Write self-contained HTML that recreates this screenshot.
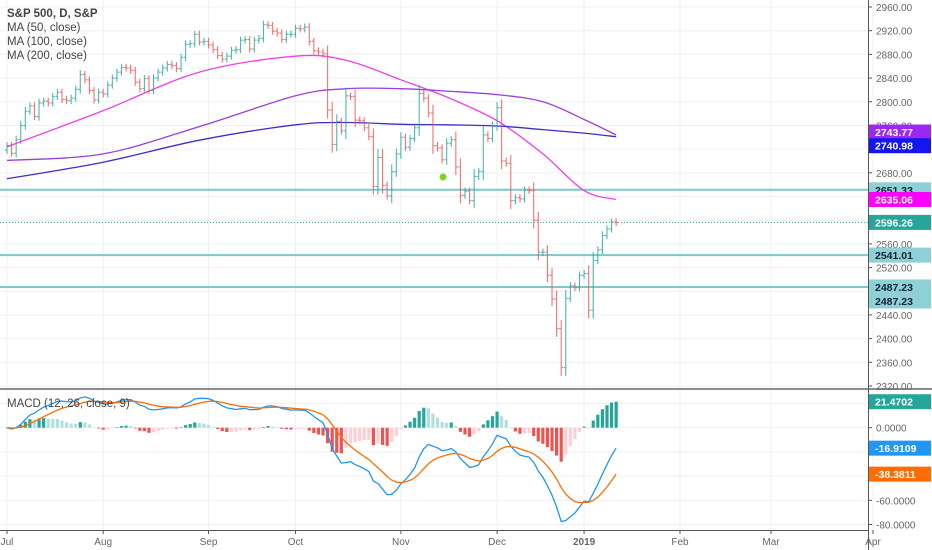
<!DOCTYPE html>
<html><head><meta charset="utf-8">
<style>
html,body{margin:0;padding:0;background:#fff;}
svg{display:block;font-family:"Liberation Sans",sans-serif;}
</style></head>
<body>
<svg id="chart" width="932" height="550" viewBox="0 0 932 550" xmlns="http://www.w3.org/2000/svg">
  <g id="grid"></g>
  <g id="hlines"></g>
  <g id="mas"></g>
  <g id="bars"></g>
  <g id="macd"></g>
  <g id="axes"></g>
  <g font-size="11.5" fill="#444">
    <text x="7" y="17" font-weight="bold">S&amp;P 500, D, S&amp;P</text>
    <text x="7" y="31">MA (50, close)</text>
    <text x="7" y="45">MA (100, close)</text>
    <text x="7" y="59">MA (200, close)</text>
    <text x="7" y="407">MACD (12, 26, close, 9)</text>
  </g>
</svg>
<script>
// ---- data ----
const closes = [2726,2713,2736,2760,2784,2793,2775,2798,2801,2798,2809,2816,2804,2802,2806,2821,2846,2837,2819,2803,2816,
2813,2828,2840,2850,2858,2857,2853,2833,2822,2839,2819,2840,2850,2857,2863,2861,2856,2875,2897,2898,2914,2901,2902,
2896,2888,2878,2872,2877,2887,2888,2904,2905,2889,2904,2907,2930,2929,2919,2916,2905,2914,2914,
2924,2923,2926,2902,2886,2884,2881,2786,2728,2767,2751,2810,2809,2769,2768,2756,2741,2657,2706,2659,2641,2682,2712,
2740,2723,2738,2756,2814,2806,2781,2726,2722,2702,2730,2736,2690,2642,2649,2633,2674,2682,2744,2738,2760,
2790,2700,2696,2633,2638,2636,2651,2650,2600,2546,2546,2507,2467,2417,2351,2468,2489,2486,2507,
2510,2448,2532,2550,2574,2585,2597,2596];
const monthLabels = ["Jul","Aug","Sep","Oct","Nov","Dec","2019"];
const monthStartIdx = [0,21,44,63,86,107,126];
const futureLabels = ["Feb","Mar","Apr"];
const maIdx = [0,21,42,63,74,86,96,107,117,126,133];
const ma50 = [2724,2785,2850,2877,2870,2837,2808,2768,2712,2650,2635];
const ma100 = [2701,2712,2758,2810,2822,2822,2818,2812,2800,2770,2744];
const ma200 = [2670,2698,2735,2761,2765,2762,2761,2759,2753,2747,2741];
const levels = [2651.33,2541.01,2487.23];
const lastClose = 2596.26;
const priceTicks = [2960,2920,2880,2840,2800,2760,2680,2560,2520,2440,2400,2360,2320];
const macdTicks = [0,-60,-80];

// ---- scales ----
const NS="http://www.w3.org/2000/svg";
const xOf = i => 7 + i*4.58;
const yP = p => 7 + (2960-p)*0.5922;
const yM = v => 427.7 - v*1.21;
function mk(tag, attrs, parent){const e=document.createElementNS(NS,tag);for(const k in attrs)e.setAttribute(k,attrs[k]);parent.appendChild(e);return e;}
const G=id=>document.getElementById(id);

// grid
const grid=G('grid');
for(let p=2320;p<=2960;p+=40){const l=mk('line',{x1:0,x2:868,y1:yP(p),y2:yP(p),stroke:'#eef0f5','stroke-width':1},grid);

}
for(let v=20;v>=-80;v-=20){const l=mk('line',{x1:0,x2:868,y1:yM(v),y2:yM(v),stroke:'#eef0f5','stroke-width':1},grid);

}
const monthX = monthStartIdx.map(i=>xOf(i)).concat([680,771,873]);
monthX.forEach(x=>{const l=mk('line',{x1:x,x2:x,y1:0,y2:530,stroke:'#eef0f5','stroke-width':1},grid);

});

// horizontal levels
const hl=G('hlines');
levels.forEach(p=>{const l=mk('line',{x1:0,x2:868,y1:yP(p),y2:yP(p),stroke:'#7ec8cc','stroke-width':2},hl);

});
const dl=mk('line',{x1:0,x2:868,y1:yP(lastClose),y2:yP(lastClose),stroke:'#26a69a','stroke-width':1,'stroke-dasharray':'1,2'},hl);


const dot=mk('circle',{cx:443,cy:yP(2673),r:3.5,fill:'#7ed321'},hl);



// smooth path (Catmull-Rom)
function smooth(pts){let d='M'+pts[0][0].toFixed(1)+','+pts[0][1].toFixed(1);
for(let i=0;i<pts.length-1;i++){const p0=pts[Math.max(0,i-1)],p1=pts[i],p2=pts[i+1],p3=pts[Math.min(pts.length-1,i+2)];
const c1=[p1[0]+(p2[0]-p0[0])/6,p1[1]+(p2[1]-p0[1])/6],c2=[p2[0]-(p3[0]-p1[0])/6,p2[1]-(p3[1]-p1[1])/6];
d+='C'+c1[0].toFixed(1)+','+c1[1].toFixed(1)+' '+c2[0].toFixed(1)+','+c2[1].toFixed(1)+' '+p2[0].toFixed(1)+','+p2[1].toFixed(1);}
return d;}

// MAs
const mas=G('mas');
function maPath(vals,color,name){const pts=vals.map((v,k)=>[xOf(maIdx[k]),yP(v)]);
const p=mk('path',{d:smooth(pts),fill:'none',stroke:color,'stroke-width':1.3},mas);

}
maPath(ma50,'#f040e8','ma50-line');
maPath(ma100,'#9b3fe0','ma100-line');
maPath(ma200,'#3b2fc9','ma200-line');

// OHLC bars
const bars=G('bars');
closes.forEach((c,i)=>{const o=i?closes[i-1]:c-8;const sp=Math.min(14,Math.max(6,Math.abs(c-o)*0.3));
const h=Math.max(o,c)+sp,l=Math.min(o,c)-sp;const col=c>=o?'#26a69a':'#ef5350';const x=xOf(i);
const g=mk('g',{stroke:col,'stroke-width':1.1,opacity:0.8},bars);


mk('line',{x1:x,x2:x,y1:yP(h),y2:yP(l)},g);
mk('line',{x1:x-2,x2:x,y1:yP(o),y2:yP(o)},g);
mk('line',{x1:x,x2:x+2,y1:yP(c),y2:yP(c)},g);});

// MACD computed from closes
function ema(arr,n){const k=2/(n+1);const out=[];arr.forEach((v,i)=>out.push(i?v*k+out[i-1]*(1-k):v));return out;}
const e12=ema(closes,12),e26=ema(closes,26);
const macdLine=closes.map((_,i)=>e12[i]-e26[i]);
const sig=ema(macdLine,9);
const hist=macdLine.map((v,i)=>v-sig[i]);
const mg=G('macd');
hist.forEach((v,i)=>{const prev=i?hist[i-1]:0;let col;
if(v>=0)col=v>=prev?'#26a69a':'#b2dfdb';else col=v<prev?'#ef5350':'#ffcdd2';
const y0=yM(0),y1=yM(v);
const r=mk('rect',{x:xOf(i)-1.6,y:Math.min(y0,y1),width:3.2,height:Math.max(0.5,Math.abs(y1-y0)),fill:col},mg);

});
function line(vals,color,name){const d=vals.map((v,i)=>(i?'L':'M')+xOf(i).toFixed(1)+','+yM(v).toFixed(1)).join('');
const p=mk('path',{d:d,fill:'none',stroke:color,'stroke-width':1.3},mg);

}
line(macdLine,'#2196f3','macd-line');
line(sig,'#ff6d00','signal-line');

// axes
const ax=G('axes');
mk('line',{x1:868.5,x2:868.5,y1:0,y2:550,stroke:'#555','stroke-width':1},ax);
mk('line',{x1:0,x2:932,y1:389,y2:389,stroke:'#666','stroke-width':1.5},ax);
mk('line',{x1:0,x2:868,y1:530.5,y2:530.5,stroke:'#555','stroke-width':1},ax);
priceTicks.forEach(p=>{mk('line',{x1:868,x2:872,y1:yP(p),y2:yP(p),stroke:'#555'},ax);
const t=mk('text',{x:876,y:yP(p)+4,'font-size':10,fill:'#666'},ax);t.textContent=p.toFixed(2);

});
macdTicks.forEach(v=>{mk('line',{x1:868,x2:872,y1:yM(v),y2:yM(v),stroke:'#555'},ax);
const t=mk('text',{x:876,y:yM(v)+4,'font-size':10,fill:'#666'},ax);t.textContent=v.toFixed(4);

});
const allLabels=monthLabels.concat(futureLabels);
monthX.forEach((x,k)=>{mk('line',{x1:x,x2:x,y1:530,y2:534,stroke:'#555'},ax);
const t=mk('text',{x:x,y:545,'font-size':10,fill:'#666','text-anchor':'middle','font-weight':allLabels[k]==='2019'?'bold':'normal'},ax);t.textContent=allLabels[k];

});
// price badges
function badge(y,txt,bg,fg,name){const g=mk('g',{},ax);


mk('rect',{x:869,y:y-7.5,width:62,height:15,fill:bg},g);
const t=mk('text',{x:875,y:y+4,'font-size':10.5,fill:fg,'font-weight':'bold'},g);t.textContent=txt;}
badge(yP(2743.77)-3,'2743.77','#9c27f0','#fff','ma100-badge');
badge(yP(2740.98)+9,'2740.98','#1515f0','#fff','ma200-badge');
badge(yP(levels[0]),levels[0].toFixed(2),'#8fd0d6','#123','level-badge-1');
badge(yP(ma50[ma50.length-1]),'2635.06','#ff00ff','#fff','ma50-badge');
badge(yP(lastClose),lastClose.toFixed(2),'#26a69a','#fff','last-price-badge');
badge(yP(levels[1]),levels[1].toFixed(2),'#8fd0d6','#123','level-badge-2');
badge(yP(levels[2]),levels[2].toFixed(2),'#8fd0d6','#123','level-badge-3');
badge(yP(levels[2])+14,levels[2].toFixed(2),'#8fd0d6','#123','level-badge-4');
badge(yM(hist[hist.length-1]),hist[hist.length-1].toFixed(4),'#26a69a','#fff','histogram-badge');
badge(yM(macdLine[macdLine.length-1]),macdLine[macdLine.length-1].toFixed(4),'#2196f3','#fff','macd-badge');
badge(yM(sig[sig.length-1]),sig[sig.length-1].toFixed(4),'#ff6d00','#fff','signal-badge');
</script>
</body></html>
